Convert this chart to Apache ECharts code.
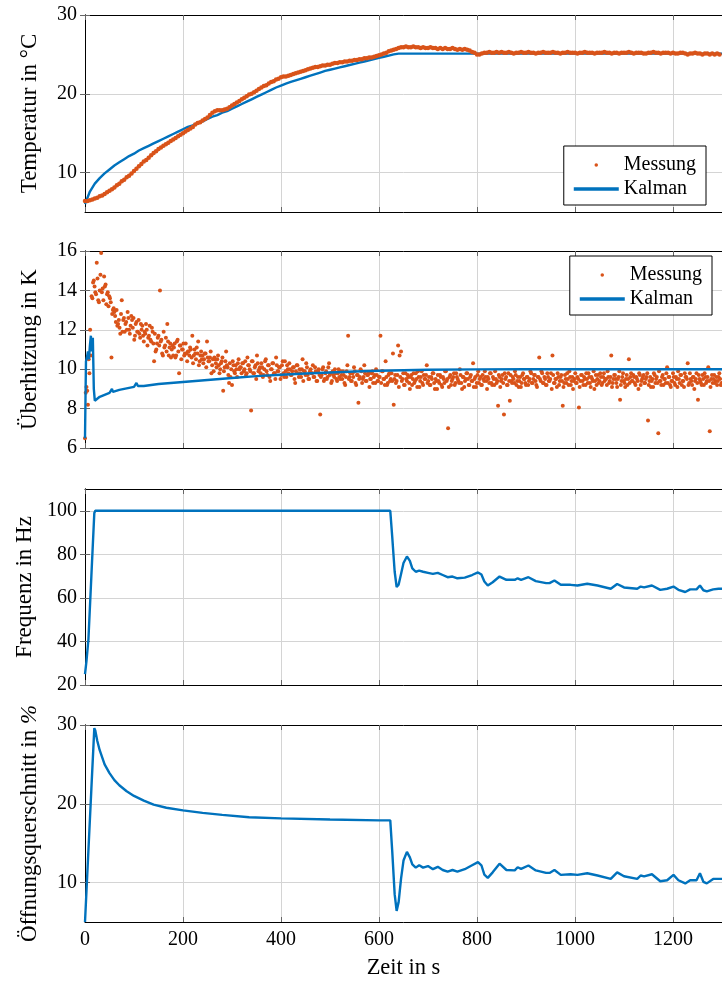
<!DOCTYPE html>
<html>
<head>
<meta charset="utf-8">
<script src="https://cdn.jsdelivr.net/npm/echarts@6/dist/echarts.min.js"></script>
<style>
  html, body { margin: 0; padding: 0; background: #fff; }
  #chart { width: 722px; height: 981px; }
</style>
</head>
<body>
<div id="chart"></div>
<script>
// ---- Messdaten ----
// Temperatur (Messung), Abtastung alle 5 s ab t = 0
const tempStep = 5;
const tempMeasured = [
  6.4, 6.4, 6.5, 6.6, 6.7, 6.8, 7.0, 7.1, 7.3, 7.5, 7.7, 7.9, 8.1, 8.4, 8.6, 8.9, 9.1, 9.4, 9.6, 9.9,
  10.2, 10.5, 10.8, 11.1, 11.4, 11.6, 11.9, 12.2, 12.5, 12.7, 13.0, 13.2, 13.4, 13.6, 13.8, 14.0, 14.2, 14.4, 14.6, 14.8,
  15.0, 15.2, 15.4, 15.6, 15.8, 16.1, 16.3, 16.4, 16.6, 16.8, 17.0, 17.3, 17.6, 17.8, 17.9, 17.9, 17.9, 18.0, 18.1, 18.3,
  18.5, 18.7, 18.9, 19.1, 19.3, 19.5, 19.7, 19.9, 20.0, 20.2, 20.4, 20.6, 20.8, 21.0, 21.1, 21.3, 21.5, 21.6, 21.8, 21.9,
  22.1, 22.2, 22.2, 22.3, 22.4, 22.5, 22.6, 22.7, 22.8, 22.9, 23.0, 23.1, 23.2, 23.3, 23.4, 23.4, 23.5, 23.6, 23.6, 23.7,
  23.7, 23.8, 23.9, 23.9, 24.0, 24.0, 24.1, 24.1, 24.2, 24.2, 24.3, 24.3, 24.4, 24.4, 24.5, 24.5, 24.6, 24.6, 24.7, 24.8,
  24.9, 25.0, 25.1, 25.2, 25.4, 25.5, 25.6, 25.7, 25.8, 25.9, 25.9, 26.0, 25.9, 25.9, 26.0, 25.9, 25.9, 25.8, 25.9, 25.8,
  25.8, 25.9, 25.8, 25.8, 25.7, 25.8, 25.7, 25.8, 25.7, 25.7, 25.8, 25.7, 25.6, 25.7, 25.6, 25.7, 25.6, 25.5, 25.3, 25.2,
  25.0, 25.0, 25.1, 25.2, 25.2, 25.3, 25.2, 25.2, 25.3, 25.2, 25.3, 25.2, 25.2, 25.3, 25.2, 25.1, 25.2, 25.2, 25.3, 25.2,
  25.2, 25.3, 25.2, 25.2, 25.1, 25.2, 25.2, 25.3, 25.2, 25.2, 25.2, 25.3, 25.2, 25.2, 25.1, 25.2, 25.2, 25.3, 25.2, 25.2,
  25.2, 25.1, 25.2, 25.2, 25.3, 25.2, 25.2, 25.2, 25.1, 25.2, 25.2, 25.2, 25.3, 25.2, 25.2, 25.1, 25.2, 25.2, 25.1, 25.2,
  25.2, 25.2, 25.3, 25.2, 25.1, 25.2, 25.2, 25.2, 25.1, 25.1, 25.2, 25.2, 25.3, 25.2, 25.2, 25.1, 25.2, 25.2, 25.2, 25.1,
  25.2, 25.1, 25.1, 25.2, 25.2, 25.1, 25.0, 25.1, 25.1, 25.2, 25.1, 25.1, 25.0, 25.1, 25.1, 25.0, 25.1, 25.0, 25.1, 25.0
];

// Temperatur (Kalman-Schätzung), alle 10 s
const tempKalmanStep = 10;
const tempKalman = [
  6.0, 7.6, 8.6, 9.3, 9.9, 10.4, 10.9, 11.3, 11.7, 12.1,
  12.4, 12.8, 13.1, 13.4, 13.7, 14.0, 14.3, 14.6, 14.9, 15.2,
  15.5, 15.8, 16.0, 16.3, 16.5, 16.8, 17.1, 17.3, 17.6, 17.8,
  18.1, 18.4, 18.7, 19.0, 19.3, 19.6, 19.9, 20.2, 20.5, 20.8,
  21.05, 21.3, 21.5, 21.7, 21.9, 22.1, 22.3, 22.5, 22.7, 22.9,
  23.05, 23.2, 23.35, 23.5, 23.65, 23.8, 23.95, 24.1, 24.25, 24.4,
  24.55, 24.7, 24.85, 25.0, 25.1, 25.1, 25.1, 25.1, 25.1, 25.1,
  25.1, 25.1, 25.1, 25.1, 25.1, 25.1, 25.1, 25.1, 25.1, 25.1,
  25.1, 25.1, 25.1, 25.1, 25.1, 25.1, 25.1, 25.1, 25.1, 25.1,
  25.1, 25.1, 25.1, 25.1, 25.1, 25.1, 25.1, 25.1, 25.1, 25.1,
  25.1, 25.1, 25.1, 25.1, 25.1, 25.1, 25.1, 25.1, 25.1, 25.1,
  25.1, 25.1, 25.1, 25.1, 25.1, 25.1, 25.1, 25.1, 25.1, 25.1,
  25.1, 25.1, 25.1, 25.1, 25.1, 25.1, 25.1, 25.1, 25.1, 25.1, 25.1
];

// Überhitzung (Messung), Abtastung alle 1,5 s, abwechselnd auf zwei Listen verteilt:
// heatMeasuredA bei t = 0, 3, 6, ...  und heatMeasuredB bei t = 1.5, 4.5, 7.5, ...
const heatStep = 3;
const heatOffsetB = 1.5;
const heatMeasuredA = [
  6.5, 9.1, 8.2, 9.8, 10.7, 13.6, 14.5, 13.9, 15.4, 13.5, 14.0, 15.9, 14.1, 14.7, 14.3, 13.8, 13.2, 13.6, 10.6, 13.0,
  12.9, 12.4, 12.2, 12.5, 11.8, 13.5, 12.5, 11.9, 12.4, 12.9, 12.0, 12.2, 12.5, 12.6, 11.7, 12.4, 11.9, 11.8, 12.3, 12.2,
  11.4, 11.8, 12.0, 11.6, 12.2, 11.4, 11.9, 10.4, 10.9, 11.3, 11.7, 14.0, 11.5, 10.7, 11.1, 11.6, 12.3, 10.7, 11.3, 11.0,
  10.7, 11.3, 10.7, 11.5, 9.8, 11.2, 11.0, 11.3, 10.8, 10.8, 10.9, 10.7, 11.0, 11.7, 10.7, 10.8, 11.1, 11.4, 10.4, 10.9,
  10.7, 10.5, 10.8, 11.4, 10.4, 10.6, 9.8, 10.5, 10.6, 10.3, 10.5, 10.2, 10.0, 10.4, 8.9, 10.1, 10.9, 10.1, 9.3, 9.6,
  9.2, 10.2, 9.8, 10.0, 10.3, 10.0, 10.1, 10.3, 9.9, 10.4, 9.8, 10.2, 10.0, 7.9,
  10.4, 9.8, 10.2, 10.7, 9.9, 10.1, 10.3, 9.6, 10.0, 10.5, 9.7, 10.2, 9.4, 10.0, 10.3, 9.8, 10.6, 9.9, 10.1, 9.5,
  10.2, 9.8, 10.4, 9.6, 10.0, 10.3, 9.7, 9.9, 10.1, 9.3, 10.2, 9.8, 10.0, 9.6, 10.5, 9.9, 9.7, 10.1, 9.5, 9.9,
  9.8, 10.2, 9.6, 9.9, 9.4, 10.0, 7.7, 9.7, 10.1, 9.5, 9.9, 9.6, 10.3, 9.8, 9.4, 9.7, 10.0, 9.5, 9.8, 9.6,
  9.9, 9.5, 9.7, 9.2, 9.9, 11.7, 9.6, 9.4, 9.8, 10.1, 9.3, 9.7, 8.3, 9.6, 9.9, 9.5, 10.2, 9.4, 9.7, 9.8,
  9.5, 9.8, 9.3, 9.7, 10.0, 9.4, 9.6, 11.7, 9.9, 9.5, 9.2, 9.6, 9.3, 9.8, 9.5, 9.4, 8.2, 9.7, 9.4, 11.2,
  10.7, 10.9, 9.5, 9.2, 9.8, 9.4, 9.6, 9.0, 9.7, 9.5, 9.3, 9.8, 9.1, 9.6, 9.4, 9.9, 9.2, 9.5, 9.7, 9.3,
  9.6, 9.2, 9.5, 9.8, 9.0, 9.4, 9.7, 9.3, 9.6, 9.1, 9.5, 9.9, 9.4, 7.0, 9.6, 9.2, 9.5, 9.8, 9.3, 9.6,
  9.4, 10.0, 9.3, 9.6, 9.1, 9.5, 9.8, 9.2, 9.6, 9.4, 10.3, 9.5, 9.1, 9.7, 9.3, 9.6, 9.2, 9.5, 9.9, 9.4,
  9.6, 9.3, 9.8, 9.2, 9.5, 9.9, 9.3, 8.15, 9.6, 9.4, 9.7, 7.7, 9.5, 9.2, 9.8, 8.4, 9.4, 9.6, 9.3, 9.7,
  9.4, 9.1, 9.6, 9.3, 9.8, 9.5, 9.2, 9.6, 9.4, 9.9, 9.3, 9.5, 9.7, 9.2, 9.6, 10.6, 9.4, 9.8, 9.3, 9.5,
  9.2, 9.6, 9.4, 9.8, 10.7, 9.3, 9.5, 9.1, 9.6, 9.4, 9.7, 8.15, 9.3, 9.5, 9.8, 9.2, 9.6, 9.4, 9.0, 9.5,
  9.3, 9.6, 8.05, 9.4, 9.7, 9.2, 9.5, 9.8, 9.3, 9.6, 9.1, 9.5, 9.9, 9.4, 9.2, 9.7, 9.4, 9.6, 9.3, 9.8,
  9.5, 9.2, 9.6, 9.4, 10.7, 9.3, 9.7, 9.5, 9.1, 9.6, 8.45, 9.4, 9.8, 9.3, 9.5, 9.2, 10.5, 9.6, 9.4, 9.7,
  9.3, 9.6, 9.4, 9.8, 9.2, 9.5, 9.7, 9.3, 9.6, 7.4, 9.4, 9.1, 9.5, 9.8, 9.3, 9.6, 6.75, 9.4, 9.2, 9.7,
  9.5, 9.3, 10.1, 9.6, 9.2, 9.4, 9.8, 9.3, 9.6, 9.1, 9.5, 9.7, 9.2, 9.4, 9.8, 9.6, 10.3, 9.3, 9.5, 9.2,
  9.6, 9.4, 9.8, 8.45, 9.5, 9.3, 9.7, 9.2, 9.6, 9.4, 10.1, 6.85, 9.5, 9.3, 9.7, 9.4, 9.2, 9.6, 9.5, 9.3
];
const heatMeasuredB = [
  8.8, 8.9, 10.5, 12.0, 13.7, 14.4, 14.2, 13.8, 14.6, 13.4, 14.8, 13.9, 13.5, 14.2, 13.3, 13.9, 13.7, 13.4, 12.8, 13.1,
  12.7, 13.0, 12.3, 12.1, 12.8, 11.9, 12.6, 12.3, 12.0, 12.6, 11.8, 12.7, 12.1, 11.5, 12.3, 11.9, 12.5, 11.6, 12.0, 11.7,
  11.9, 12.3, 11.2, 11.7, 11.5, 12.1, 11.3, 11.8, 11.0, 11.6, 11.2, 11.4, 10.8, 11.9, 11.2, 10.9, 11.4, 11.1, 10.6, 11.2,
  11.1, 10.6, 11.4, 10.9, 11.2, 10.5, 11.0, 10.7, 11.3, 10.4, 10.9, 11.1, 10.6, 10.3, 11.0, 10.5, 10.8, 10.2, 10.7, 10.5,
  10.3, 10.8, 10.1, 10.6, 10.4, 10.9, 10.2, 9.9, 10.5, 10.1, 10.7, 9.8, 10.3, 10.6, 9.9, 10.4, 10.2, 9.7, 10.3, 10.0,
  10.4, 9.9, 10.2, 9.6, 10.5, 10.1, 9.8, 10.3, 10.0, 9.7, 10.6, 10.2, 9.9, 10.4, 9.8, 10.1, 9.5, 10.3, 10.0, 9.8,
  10.1, 9.7, 10.4, 9.9, 10.2, 9.6, 10.0, 10.3, 9.8, 9.5, 10.2, 9.9, 10.1, 9.7, 10.4, 9.6, 9.9, 10.2, 9.8, 10.0,
  9.7, 10.1, 9.5, 9.9, 10.2, 9.6, 9.8, 10.0, 9.4, 9.9, 10.3, 9.7, 9.5, 10.0, 9.8, 9.6, 10.1, 9.4, 9.9, 9.7,
  9.6, 10.0, 9.4, 9.8, 9.5, 10.1, 9.7, 9.3, 9.9, 9.6, 9.8, 9.4, 10.0, 9.5, 9.7, 9.9, 9.3, 9.6, 10.2, 9.5,
  9.8, 9.4, 9.6, 9.9, 9.2, 9.7, 9.5, 10.0, 9.3, 9.6, 9.8, 9.4, 9.7, 9.1, 9.5, 9.9, 9.6, 9.3, 9.7, 9.4,
  9.6, 9.3, 9.9, 9.5, 10.4, 9.2, 9.7, 9.4, 9.8, 10.8, 9.5, 9.3, 9.7, 9.1, 9.6, 9.4, 9.8, 9.2, 9.5, 9.7,
  9.3, 9.6, 9.2, 9.8, 9.4, 9.5, 9.9, 9.1, 9.6, 9.3, 9.7, 9.5, 10.2, 9.4, 9.2, 9.6, 9.8, 9.3, 9.5, 9.0,
  9.4, 9.7, 9.2, 9.6, 9.3, 9.9, 9.5, 9.1, 9.7, 9.4, 9.6, 9.2, 9.8, 9.5, 9.3, 9.7, 9.0, 9.6, 9.4, 9.8,
  9.5, 9.2, 9.7, 9.4, 9.1, 9.6, 9.3, 9.9, 9.5, 9.2, 9.7, 9.4, 9.6, 9.0, 9.5, 9.8, 9.3, 9.6, 9.2, 9.5,
  9.4, 9.7, 9.1, 9.5, 9.3, 9.8, 9.6, 9.2, 9.4, 9.7, 9.3, 9.5, 9.9, 9.2, 9.6, 9.4, 9.1, 9.7, 9.5, 9.3,
  9.6, 9.2, 9.5, 9.8, 9.3, 9.7, 9.4, 9.1, 9.6, 9.5, 9.9, 9.3, 9.6, 9.2, 9.8, 9.4, 9.5, 9.0, 9.7, 9.3,
  9.5, 9.8, 9.2, 9.6, 9.4, 9.1, 9.7, 9.3, 9.5, 9.9, 9.2, 9.6, 9.4, 9.8, 9.3, 9.5, 9.1, 9.7, 9.4, 9.6,
  9.2, 9.5, 9.8, 9.3, 9.6, 9.4, 9.0, 9.7, 9.5, 9.3, 9.8, 9.2, 9.6, 9.4, 9.5, 9.9, 9.3, 9.6, 9.1, 9.5,
  9.7, 9.3, 9.5, 9.9, 9.2, 9.6, 9.4, 9.1, 9.7, 9.5, 9.3, 9.8, 9.4, 9.6, 9.2, 9.5, 9.0, 9.7, 9.4, 9.6,
  9.3, 9.5, 9.8, 9.2, 9.6, 9.4, 9.1, 9.7, 9.5, 9.3, 9.9, 9.4, 9.6, 9.2, 9.5, 9.8, 9.3, 9.6, 9.1, 9.4,
  9.6, 9.2, 9.5, 9.9, 9.3, 9.7, 9.4, 9.1, 9.6, 9.5, 9.2, 9.8, 9.4, 9.6, 9.0, 9.5, 9.3, 9.7, 9.4, 9.2,
  9.5, 9.8, 9.3, 9.6, 9.4, 9.1, 9.7, 9.5, 9.3, 9.6, 9.4, 9.8, 9.2
];

// Überhitzung (Kalman-Schätzung)
const heatKalmanTime = [0, 1, 2, 4, 6, 8, 10, 12, 14, 16, 18, 20, 25, 30, 40, 50, 55, 57, 60, 70, 80, 100, 105, 108, 120, 150, 200, 250, 300, 350, 400, 450, 500, 550, 600, 650, 700, 800, 900, 1300];
const heatKalman = [6.5, 8.5, 10.4, 10.6, 10.9, 10.5, 11.2, 11.7, 10.9, 11.6, 9.0, 8.4, 8.5, 8.6, 8.7, 8.8, 9.0, 8.85, 8.9, 8.95, 9.0, 9.1, 9.3, 9.15, 9.15, 9.25, 9.35, 9.45, 9.55, 9.65, 9.72, 9.78, 9.83, 9.88, 9.92, 9.95, 9.97, 9.99, 10.0, 10.0];

// Stellgrößen: Verdichterfrequenz und Ventilöffnung
const ctrlTime = [0, 3, 7, 13, 19, 21, 25, 30, 40, 50, 60, 70, 85, 100, 120, 140, 166, 200, 240, 280, 335, 400, 500, 600, 623,
  627, 632, 636, 640, 645, 650, 657, 663, 668, 675, 682, 690, 700, 710, 720, 730, 740, 750, 760, 775, 790,
  802, 809, 815, 822, 832, 846, 860, 877, 883, 890, 905, 920, 941, 948, 958, 971, 991, 1005, 1025, 1046,
  1073, 1086, 1100, 1127, 1134, 1141, 1157, 1174, 1188, 1201, 1211, 1225, 1235, 1248, 1255, 1262, 1269, 1282, 1293, 1300];
const frequency = [25, 31, 41, 70, 99, 100, 100, 100, 100, 100, 100, 100, 100, 100, 100, 100, 100, 100, 100, 100, 100, 100, 100, 100, 100,
  88, 72, 65, 66, 71, 76, 79, 77, 73.5, 72, 72.5, 72, 71.5, 71, 71.5, 70.5, 69.5, 69.8, 69, 69.3, 70.5,
  71.7, 70.7, 67.5, 65.7, 67.2, 69.8, 68.3, 68.3, 69, 68.3, 69.5, 67.7, 66.8, 66.8, 68, 66, 66, 65.7, 66.5, 65.7,
  64.2, 66.4, 64.8, 64.2, 65.2, 64.8, 65.7, 63.7, 64.2, 65.2, 63.7, 62.7, 63.9, 63.9, 65.7, 63.5, 63, 63.9, 64.2, 64.2];
const opening = [5, 8.9, 14.1, 21.9, 29.6, 29.3, 28.0, 26.8, 25.0, 23.9, 23.0, 22.35, 21.6, 21.0, 20.4, 19.9, 19.5, 19.17, 18.85, 18.6, 18.3, 18.15, 18.0, 17.9, 17.9,
  14.0, 8.5, 6.4, 7.5, 10.5, 12.8, 13.9, 13.2, 12.3, 11.9, 12.2, 11.9, 12.1, 11.7, 12.0, 11.6, 11.4, 11.6, 11.4, 11.7, 12.2,
  12.6, 12.2, 11.0, 10.6, 11.3, 12.4, 11.6, 11.55, 11.95, 11.75, 12.17, 11.55, 11.23, 11.23, 11.6, 10.98, 11.06, 10.98, 11.19, 10.9,
  10.47, 11.3, 10.8, 10.47, 10.9, 10.8, 11.06, 10.17, 10.3, 10.98, 10.3, 9.9, 10.3, 10.3, 11.19, 10.1, 9.9, 10.47, 10.47, 10.47];

// Achsenbeschriftungen
const timeTicks = [0, 200, 400, 600, 800, 1000, 1200];
const tempTicks = [10, 20, 30];
const heatTicks = [6, 8, 10, 12, 14, 16];
const freqTicks = [20, 40, 60, 80, 100];
const openTicks = [10, 20, 30];

// ---- Darstellung ----
const FONT = 'Liberation Serif';
const ORANGE = '#D95319';
const BLUE = '#0072BD';
const GRID_COLOR = '#d4d4d4';
const TICK_COLOR = '#666';

const panels = [
  { top: 15,  height: 197, min: 5,  max: 30,  ticks: tempTicks, name: 'Temperatur in °C' },
  { top: 251, height: 197, min: 6,  max: 16,  ticks: heatTicks, name: 'Überhitzung in K' },
  { top: 489, height: 196, min: 20, max: 110, ticks: freqTicks, name: 'Frequenz in Hz' },
  { top: 725, height: 197, min: 5,  max: 30,  ticks: openTicks, name: 'Öffnungsquerschnitt in {i|%}' }
];

const frameLine = { show: true, lineStyle: { color: '#000', width: 1 } };
const xMax = 1300;
const plainNumber = v => String(v);

const grid = panels.map(p => ({ left: 85, width: 640, top: p.top, height: p.height }));

const xAxis = [];
const yAxis = [];
panels.forEach((p, i) => {
  const last = i === panels.length - 1;
  xAxis.push({
    type: 'value', gridIndex: i, min: 0, max: xMax, position: 'bottom',
    axisLine: frameLine,
    axisTick: { inside: true, length: 5, customValues: timeTicks, lineStyle: { color: TICK_COLOR } },
    axisLabel: { show: last, customValues: timeTicks, formatter: plainNumber, fontFamily: FONT, fontSize: 20, color: '#000', margin: 8 },
    splitLine: { show: true, lineStyle: { color: GRID_COLOR, width: 1 } },
    name: last ? 'Zeit in s' : '', nameLocation: 'middle', nameGap: 35,
    nameTextStyle: { fontFamily: FONT, fontSize: 22.5, color: '#000' }
  });
  xAxis.push({
    type: 'value', gridIndex: i, min: 0, max: xMax, position: 'top',
    axisLine: frameLine,
    axisTick: { inside: true, length: 5, customValues: timeTicks, lineStyle: { color: TICK_COLOR } },
    axisLabel: { show: false, customValues: timeTicks },
    splitLine: { show: false }
  });
  yAxis.push({
    type: 'value', gridIndex: i, min: p.min, max: p.max, position: 'left',
    axisLine: frameLine,
    axisTick: { inside: true, length: 5, customValues: p.ticks, lineStyle: { color: TICK_COLOR } },
    axisLabel: { customValues: p.ticks, formatter: plainNumber, fontFamily: FONT, fontSize: 20, color: '#000', margin: 8 },
    splitLine: { show: true, lineStyle: { color: GRID_COLOR, width: 1 } },
    name: p.name, nameLocation: 'middle', nameGap: 44,
    nameTextStyle: {
      fontFamily: FONT, fontSize: 23, color: '#000',
      rich: { i: { fontFamily: FONT, fontSize: 23, fontStyle: 'italic', color: '#000' } }
    }
  });
  yAxis.push({
    type: 'value', gridIndex: i, min: p.min, max: p.max, position: 'right',
    axisLine: frameLine,
    axisTick: { inside: true, length: 5, customValues: p.ticks, lineStyle: { color: TICK_COLOR } },
    axisLabel: { show: false, customValues: p.ticks },
    splitLine: { show: false }
  });
});

const stepped = (values, step, offset) => values.map((v, i) => [(offset || 0) + i * step, v]);
const paired = (times, values) => times.map((t, i) => [t, values[i]]);

const lineSeries = (name, idx, data, z) => ({
  type: 'line', name, xAxisIndex: idx * 2, yAxisIndex: idx * 2, data,
  showSymbol: false, symbol: 'none', z,
  lineStyle: { color: BLUE, width: 2.4 }, itemStyle: { color: BLUE }
});
const dotSeries = (name, idx, data, size, z) => ({
  type: 'scatter', name, xAxisIndex: idx * 2, yAxisIndex: idx * 2, data,
  symbolSize: size, z, itemStyle: { color: ORANGE, opacity: 1 }
});

const heatMeasured = stepped(heatMeasuredA, heatStep, 0)
  .concat(stepped(heatMeasuredB, heatStep, heatOffsetB));

const series = [
  dotSeries('Messung', 0, stepped(tempMeasured, tempStep), 4.5, 4),
  lineSeries('Kalman', 0, stepped(tempKalman, tempKalmanStep), 3),
  dotSeries('Messung', 1, heatMeasured, 4, 3),
  lineSeries('Kalman', 1, paired(heatKalmanTime, heatKalman), 4),
  lineSeries('Frequenz', 2, paired(ctrlTime, frequency), 3),
  lineSeries('Öffnungsquerschnitt', 3, paired(ctrlTime, opening), 3)
];

const legendBase = {
  orient: 'vertical', selectedMode: false,
  data: [{ name: 'Messung', icon: 'circle' }, { name: 'Kalman', icon: 'rect' }],
  itemWidth: 45, itemHeight: 3.5, itemGap: 4, symbolKeepAspect: true,
  padding: [9, 10, 6, 10], borderColor: '#000', borderWidth: 1, borderRadius: 0,
  backgroundColor: '#fff',
  textStyle: { fontFamily: FONT, fontSize: 20, color: '#000' }
};

const chart = echarts.init(document.getElementById('chart'), null, { renderer: 'canvas' });
chart.setOption({
  animation: false,
  backgroundColor: '#fff',
  grid, xAxis, yAxis, series,
  legend: [
    Object.assign({}, legendBase, { right: 16, top: 146 }),
    Object.assign({}, legendBase, { right: 10, top: 256 })
  ]
});
</script>
</body>
</html>
